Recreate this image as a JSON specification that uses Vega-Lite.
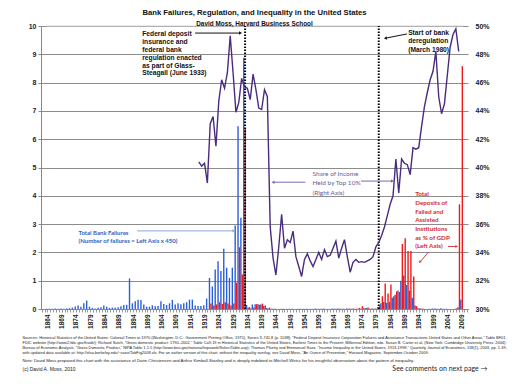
{
 "$schema": "https://vega.github.io/schema/vega-lite/v6.json",
 "width": 427,
 "height": 283,
 "autosize": {"type": "none"},
 "padding": {"left": 41, "top": 26, "right": 44, "bottom": 81},
 "background": "white",
 "config": {
  "view": {"stroke": null}, "font": "Liberation Sans",
  "axisX": {"tickCount": 146, "labelExpr": "(datum.value - 1864) % 5 == 0 ? '' + datum.value : ''", "labelAngle": 270,
   "labelOverlap": false, "labelFlush": false, "grid": false, "title": null, "labelFontSize": 6.5, "labelFontWeight": "bold",
   "labelColor": "#222", "tickSize": 3, "tickColor": "#999", "domainColor": "#888", "labelPadding": 2}
 },
 "title": {
  "text": "Bank Failures,  Regulation,  and Inequality in the United States",
  "subtitle": "David Moss, Harvard Business School",
  "font": "Liberation Sans", "fontSize": 7.7, "fontWeight": "bold", "color": "#111",
  "subtitleFont": "Liberation Sans", "subtitleFontSize": 6.4, "subtitleFontWeight": "bold", "subtitleColor": "#111",
  "subtitlePadding": 4, "offset": 0, "dy": 5.5, "anchor": "middle"
 },
 "data": {"values": [
  {"yr":1864,"f":0.01},{"yr":1865,"f":0.01},{"yr":1866,"f":0.01},{"yr":1867,"f":0.02},{"yr":1868,"f":0.01},
  {"yr":1869,"f":0.02},{"yr":1870,"f":0.01},{"yr":1871,"f":0.02},{"yr":1872,"f":0.03},{"yr":1873,"f":0.05},
  {"yr":1874,"f":0.09},{"yr":1875,"f":0.12},{"yr":1876,"f":0.08},{"yr":1877,"f":0.2},{"yr":1878,"f":0.3},
  {"yr":1879,"f":0.08},{"yr":1880,"f":0.04},{"yr":1881,"f":0.02},{"yr":1882,"f":0.04},{"yr":1883,"f":0.06},
  {"yr":1884,"f":0.12},{"yr":1885,"f":0.08},{"yr":1886,"f":0.04},{"yr":1887,"f":0.05},{"yr":1888,"f":0.04},
  {"yr":1889,"f":0.06},{"yr":1890,"f":0.1},{"yr":1891,"f":0.14},{"yr":1892,"f":0.15},{"yr":1893,"f":1.08},
  {"yr":1894,"f":0.2},{"yr":1895,"f":0.27},{"yr":1896,"f":0.33},{"yr":1897,"f":0.32},{"yr":1898,"f":0.16},
  {"yr":1899,"f":0.08},{"yr":1900,"f":0.08},{"yr":1901,"f":0.13},{"yr":1902,"f":0.1},{"yr":1903,"f":0.11},
  {"yr":1904,"f":0.27},{"yr":1905,"f":0.18},{"yr":1906,"f":0.14},{"yr":1907,"f":0.2},{"yr":1908,"f":0.32},
  {"yr":1909,"f":0.16},{"yr":1910,"f":0.2},{"yr":1911,"f":0.17},{"yr":1912,"f":0.2},{"yr":1913,"f":0.24},
  {"yr":1914,"f":0.33},{"yr":1915,"f":0.33},{"yr":1916,"f":0.12},
  {"yr":1917,"f":0.11,"s":40.4},{"yr":1918,"f":0.11,"s":40.1},{"yr":1919,"f":0.13,"s":40.3},{"yr":1920,"f":0.37,"s":38.9},
  {"yr":1921,"f":1.1,"d":0.19,"s":43.1},{"yr":1922,"f":0.8,"d":0.12,"s":43.6},{"yr":1923,"f":1.4,"d":0.16,"s":41.5},
  {"yr":1924,"f":1.69,"d":0.24,"s":44.7},{"yr":1925,"f":1.34,"d":0.18,"s":46.2},{"yr":1926,"f":2.13,"d":0.24,"s":45.6},
  {"yr":1927,"f":1.46,"d":0.19,"s":46.7},{"yr":1928,"f":1.1,"d":0.12,"s":49.3},{"yr":1929,"f":1.46,"d":0.19,"s":46.7},
  {"yr":1930,"f":2.95,"d":0.93,"s":43.9},{"yr":1931,"f":6.46,"d":2.18,"s":44.6},{"yr":1932,"f":3.22,"d":1.22,"s":46.3},
  {"yr":1933,"f":8.88,"d":6.37,"s":45.7},{"yr":1934,"f":0.14,"d":0.04,"s":45.6},{"yr":1935,"f":0.07,"d":0.02,"s":44.8},
  {"yr":1936,"f":0.16,"d":0.05,"s":46.6},{"yr":1937,"f":0.17,"d":0.17,"s":45.5},{"yr":1938,"f":0.17,"d":0.15,"s":44.2},
  {"yr":1939,"f":0.16,"d":0.19,"s":44.1},{"yr":1940,"f":0.11,"d":0.12,"s":45.5},{"yr":1941,"f":0.04,"d":0.02,"s":45.0},
  {"yr":1942,"f":0.05,"d":0.01,"s":35.8},{"yr":1943,"f":0.01,"d":0.005,"s":33.6},{"yr":1944,"f":0.005,"d":0.003,"s":32.4},
  {"yr":1945,"f":0.003,"d":0.002,"s":34.4},{"yr":1946,"f":0.005,"d":0.003,"s":36.7},{"yr":1947,"f":0.013,"d":0.004,"s":34.3},
  {"yr":1948,"f":0.007,"d":0.003,"s":34.9},{"yr":1949,"f":0.01,"d":0.003,"s":34.7},{"yr":1950,"f":0.011,"d":0.003,"s":35.5},
  {"yr":1951,"f":0.004,"d":0.002,"s":33.7},{"yr":1952,"f":0.009,"d":0.002,"s":33.0},{"yr":1953,"f":0.009,"d":0.003,"s":32.3},
  {"yr":1954,"f":0.009,"d":0.003,"s":33.5},{"yr":1955,"f":0.011,"d":0.003,"s":33.9},{"yr":1956,"f":0.007,"d":0.002,"s":33.4},
  {"yr":1957,"f":0.007,"d":0.002,"s":33.0},{"yr":1958,"f":0.02,"d":0.003,"s":33.5},{"yr":1959,"f":0.007,"d":0.002,"s":34.0},
  {"yr":1960,"f":0.011,"d":0.003,"s":33.5},{"yr":1961,"f":0.02,"d":0.004,"s":34.2},{"yr":1962,"f":0.004,"d":0.002,"s":33.7},
  {"yr":1963,"f":0.005,"d":0.004,"s":33.8},{"yr":1964,"f":0.016,"d":0.005,"s":34.3},{"yr":1965,"f":0.011,"d":0.005,"s":34.8},
  {"yr":1966,"f":0.016,"d":0.01,"s":33.6},{"yr":1967,"f":0.009,"d":0.005,"s":34.3},{"yr":1968,"f":0.007,"d":0.004,"s":34.9},
  {"yr":1969,"f":0.02,"d":0.006,"s":33.7},{"yr":1970,"f":0.016,"d":0.006,"s":32.6},{"yr":1971,"f":0.013,"d":0.015,"s":33.3},
  {"yr":1972,"f":0.004,"d":0.01,"s":33.5},{"yr":1973,"f":0.013,"d":0.04,"s":33.3},{"yr":1974,"f":0.009,"d":0.1,"s":33.35},
  {"yr":1975,"f":0.03,"d":0.03,"s":33.3},{"yr":1976,"f":0.038,"d":0.05,"s":33.4},{"yr":1977,"f":0.013,"d":0.01,"s":33.5},
  {"yr":1978,"f":0.016,"d":0.01,"s":33.7},{"yr":1979,"f":0.022,"d":0.01,"s":34.4},{"yr":1980,"f":0.07,"d":0.1,"s":34.7},
  {"yr":1981,"f":0.2,"d":0.45,"s":35.2},{"yr":1982,"f":0.25,"d":0.9,"s":35.8},{"yr":1983,"f":0.22,"d":0.55,"s":36.6},
  {"yr":1984,"f":0.25,"d":0.87,"s":37.4},{"yr":1985,"f":0.4,"d":0.45,"s":38.0},{"yr":1986,"f":0.5,"d":0.62,"s":40.6},
  {"yr":1987,"f":0.65,"d":0.6,"s":38.2},{"yr":1988,"f":1.0,"d":2.3,"s":40.6},{"yr":1989,"f":1.18,"d":2.5,"s":40.3},
  {"yr":1990,"f":0.85,"d":2.05,"s":40.2},{"yr":1991,"f":0.65,"d":2.05,"s":39.5},{"yr":1992,"f":0.4,"d":1.15,"s":41.4},
  {"yr":1993,"f":0.12,"d":0.1,"s":41.3},{"yr":1994,"f":0.03,"d":0.02,"s":41.4},{"yr":1995,"f":0.02,"d":0.01,"s":42.9},
  {"yr":1996,"f":0.01,"d":0.004,"s":44.3},{"yr":1997,"f":0.002,"d":0.001,"s":45.3},{"yr":1998,"f":0.007,"d":0.003,"s":46.2},
  {"yr":1999,"f":0.02,"d":0.01,"s":46.8},{"yr":2000,"f":0.016,"d":0.004,"s":48.2},{"yr":2001,"f":0.009,"d":0.002,"s":45.0},
  {"yr":2002,"f":0.024,"d":0.003,"s":43.8},{"yr":2003,"f":0.007,"d":0.001,"s":44.5},{"yr":2004,"f":0.009,"d":0.001,"s":46.5},
  {"yr":2005,"f":0.0,"d":0.0,"s":48.5},{"yr":2006,"f":0.0,"d":0.0,"s":49.4},{"yr":2007,"f":0.007,"d":0.02,"s":49.8},
  {"yr":2008,"f":0.06,"d":3.7,"s":48.2},{"yr":2009,"f":0.33,"d":8.58}
 ]},
 "layer": [
  {"mark": {"type": "bar", "width": 1.4, "xOffset": -0.75, "color": "#2a5fd8"},
   "encoding": {
    "x": {"field": "yr", "type": "quantitative", "title": null,
     "scale": {"domain": [1863.5, 2009.5], "nice": false, "zero": false}},
    "y": {"field": "f", "type": "quantitative",
     "scale": {"domain": [0, 10], "nice": false},
     "axis": {"values": [0,1,2,3,4,5,6,7,8,9,10], "grid": true, "gridColor": "#8c8c8c",
      "labelFontSize": 7, "labelFontWeight": "bold", "labelColor": "#222", "tickSize": 3, "tickColor": "#888",
      "domainColor": "#888", "labelPadding": 2, "title": null}}
   }},
  {"mark": {"type": "bar", "width": 1.4, "xOffset": 0.75, "color": "#f01818"},
   "encoding": {
    "x": {"field": "yr", "type": "quantitative", "title": null},
    "y": {"field": "d", "type": "quantitative", "scale": {"domain": [0, 10], "nice": false}, "axis": null}
   }},
  {"data": {"values": [{}]},
   "mark": {"type": "rule", "color": "#d6d6d6", "strokeWidth": 1},
   "encoding": {"x": {"datum": 1863.5}, "x2": {"datum": 2009.5}, "y": {"datum": 10, "scale": {"domain": [0, 10], "nice": false}, "axis": null}, "y2": {"datum": 10}}},
  {"data": {"values": [{}]},
   "mark": {"type": "rule", "color": "#000", "strokeWidth": 2, "strokeDash": [1.5, 1.5]},
   "encoding": {"x": {"datum": 1933.2}, "y": {"datum": 0, "scale": {"domain": [0, 10], "nice": false}, "axis": null}, "y2": {"datum": 10}}},
  {"data": {"values": [{}]},
   "mark": {"type": "rule", "color": "#000", "strokeWidth": 2, "strokeDash": [1.5, 1.5]},
   "encoding": {"x": {"datum": 1980}, "y": {"datum": 0, "scale": {"domain": [0, 10], "nice": false}, "axis": null}, "y2": {"datum": 10}}},
  {"data": {"values": [{}]},
   "mark": {"type": "text", "text": ["Federal deposit", "insurance and", "federal bank", "regulation enacted", "as part of Glass-", "Steagall (June 1933)"],
    "align": "left", "baseline": "alphabetic", "lineHeight": 7.8, "font": "Liberation Sans", "fontSize": 6.7, "fontWeight": "bold", "color": "#111"},
   "encoding": {"x": {"datum": 1897.2}, "y": {"datum": 9.63, "scale": {"domain": [0, 10], "nice": false}, "axis": null}}},
  {"data": {"values": [{}]},
   "mark": {"type": "rule", "color": "#111", "strokeWidth": 1},
   "encoding": {"x": {"datum": 1915.7}, "x2": {"datum": 1931.3}, "y": {"datum": 9.75, "scale": {"domain": [0, 10], "nice": false}, "axis": null}, "y2": {"datum": 9.75}}},
  {"data": {"values": [{}]},
   "mark": {"type": "point", "shape": "triangle-right", "size": 12, "filled": true, "opacity": 1, "color": "#111"},
   "encoding": {"x": {"datum": 1931.6}, "y": {"datum": 9.75, "scale": {"domain": [0, 10], "nice": false}, "axis": null}}},
  {"data": {"values": [{}]},
   "mark": {"type": "text", "text": ["Start of bank", "deregulation", "(March 1980)"],
    "align": "left", "baseline": "alphabetic", "lineHeight": 8.3, "font": "Liberation Sans", "fontSize": 6.7, "fontWeight": "bold", "color": "#111"},
   "encoding": {"x": {"datum": 1990.3}, "y": {"datum": 9.68, "scale": {"domain": [0, 10], "nice": false}, "axis": null}}},
  {"data": {"values": [{}]},
   "mark": {"type": "rule", "color": "#111", "strokeWidth": 1},
   "encoding": {"x": {"datum": 1989.9}, "x2": {"datum": 1982.9}, "y": {"datum": 9.72, "scale": {"domain": [0, 10], "nice": false}, "axis": null}, "y2": {"datum": 9.58}}},
  {"data": {"values": [{}]},
   "mark": {"type": "point", "shape": "triangle", "angle": 259, "size": 12, "filled": true, "opacity": 1, "color": "#111"},
   "encoding": {"x": {"datum": 1982.5}, "y": {"datum": 9.57, "scale": {"domain": [0, 10], "nice": false}, "axis": null}}},
  {"data": {"values": [{}]},
   "mark": {"type": "text", "text": ["Share of Income", "Held by Top 10%", "(Right Axis)"],
    "align": "left", "baseline": "alphabetic", "lineHeight": 9.2, "font": "Lato", "fontSize": 6.5, "color": "#6a5c96"},
   "encoding": {"x": {"datum": 1956.8}, "y": {"datum": 4.69, "scale": {"domain": [0, 10], "nice": false}, "axis": null}}},
  {"data": {"values": [{}]},
   "mark": {"type": "rule", "color": "#7a6aa8", "strokeWidth": 1},
   "encoding": {"x": {"datum": 1954.3}, "x2": {"datum": 1943.4}, "y": {"datum": 4.48, "scale": {"domain": [0, 10], "nice": false}, "axis": null}, "y2": {"datum": 4.48}}},
  {"data": {"values": [{}]},
   "mark": {"type": "point", "shape": "triangle-left", "size": 12, "filled": true, "opacity": 1, "color": "#7a6aa8"},
   "encoding": {"x": {"datum": 1943.0}, "y": {"datum": 4.48, "scale": {"domain": [0, 10], "nice": false}, "axis": null}}},
  {"data": {"values": [{}]},
   "mark": {"type": "rule", "color": "#7a6aa8", "strokeWidth": 1},
   "encoding": {"x": {"datum": 1973.8}, "x2": {"datum": 1984.4}, "y": {"datum": 4.52, "scale": {"domain": [0, 10], "nice": false}, "axis": null}, "y2": {"datum": 4.52}}},
  {"data": {"values": [{}]},
   "mark": {"type": "point", "shape": "triangle-right", "size": 12, "filled": true, "opacity": 1, "color": "#7a6aa8"},
   "encoding": {"x": {"datum": 1984.8}, "y": {"datum": 4.52, "scale": {"domain": [0, 10], "nice": false}, "axis": null}}},
  {"data": {"values": [{}]},
   "mark": {"type": "text", "text": ["Total Bank Failures", "(Number of failures = Left Axis x 450)"],
    "align": "left", "baseline": "alphabetic", "lineHeight": 8.4, "font": "Lato", "fontSize": 6, "fontWeight": "bold", "color": "#2e63c4"},
   "encoding": {"x": {"datum": 1874.9}, "y": {"datum": 2.63, "scale": {"domain": [0, 10], "nice": false}, "axis": null}}},
  {"data": {"values": [{}]},
   "mark": {"type": "rule", "color": "#8aa9dc", "strokeWidth": 1},
   "encoding": {"x": {"datum": 1895.4}, "x2": {"datum": 1929.0}, "y": {"datum": 2.76, "scale": {"domain": [0, 10], "nice": false}, "axis": null}, "y2": {"datum": 2.76}}},
  {"data": {"values": [{}]},
   "mark": {"type": "point", "shape": "triangle-right", "size": 12, "filled": true, "opacity": 1, "color": "#8aa9dc"},
   "encoding": {"x": {"datum": 1929.3}, "y": {"datum": 2.76, "scale": {"domain": [0, 10], "nice": false}, "axis": null}}},
  {"data": {"values": [{}]},
   "mark": {"type": "text", "text": ["Total", "Deposits of", "Failed and", "Assisted", "Institutions", "as %  of GDP", "(Left Axis)"],
    "align": "left", "baseline": "alphabetic", "lineHeight": 8.67, "font": "Lato", "fontSize": 6.3, "fontWeight": "bold", "color": "#d42a2a"},
   "encoding": {"x": {"datum": 1992.75}, "y": {"datum": 3.98, "scale": {"domain": [0, 10], "nice": false}, "axis": null}}},
  {"data": {"values": [{}]},
   "mark": {"type": "rule", "color": "#d04040", "strokeWidth": 1},
   "encoding": {"x": {"datum": 2004.25}, "x2": {"datum": 2007.0}, "y": {"datum": 2.21, "scale": {"domain": [0, 10], "nice": false}, "axis": null}, "y2": {"datum": 2.21}}},
  {"data": {"values": [{}]},
   "mark": {"type": "point", "shape": "triangle-right", "size": 10, "filled": true, "opacity": 1, "color": "#d04040"},
   "encoding": {"x": {"datum": 2007.3}, "y": {"datum": 2.21, "scale": {"domain": [0, 10], "nice": false}, "axis": null}}},
  {"data": {"values": [{}]},
   "mark": {"type": "rule", "color": "#d04040", "strokeWidth": 1},
   "encoding": {"x": {"datum": 1997.45}, "x2": {"datum": 1994.8}, "y": {"datum": 2.02, "scale": {"domain": [0, 10], "nice": false}, "axis": null}, "y2": {"datum": 1.7}}},
  {"data": {"values": [{}]},
   "mark": {"type": "point", "shape": "triangle", "angle": 222, "size": 10, "filled": true, "opacity": 1, "color": "#d04040"},
   "encoding": {"x": {"datum": 1994.5}, "y": {"datum": 1.67, "scale": {"domain": [0, 10], "nice": false}, "axis": null}}},
  {"data": {"values": [{}]},
   "mark": {"type": "text", "text": [
     "Sources: Historical Statistics of the United States: Colonial Times to 1970 (Washington, D.C.: Government Printing Office, 1975), Series X-741,8 (p. 1038); “Federal Deposit Insurance Corporation Failures and Assistance Transactions United States and Other Areas,” Table BF01,",
     "FDIC website (http://www2.fdic.gov/hsob/); Richard Sutch, “Gross domestic product: 1790–2002,” Table Ca9-19 in Historical Statistics of the United States, Earliest Times to the Present: Millennial Edition, eds. Susan B. Carter et al. (New York: Cambridge University Press, 2006);",
     "Bureau of Economic Analysis, “Gross Domestic Product,” NIPA Table 1.1.5 (http://www.bea.gov/national/nipaweb/SelectTable.asp); Thomas Piketty and Emmanuel Saez, “Income Inequality in the United States, 1913-1998,” Quarterly Journal of Economics, 118(1), 2003, pp. 1-39,",
     "with updated data available at: http://elsa.berkeley.edu/~saez/TabFig2008.xls.  For an earlier version of this chart, without the inequality overlay, see David Moss, “An Ounce of Prevention,” Harvard Magazine, September-October 2009."],
    "align": "left", "baseline": "alphabetic", "lineHeight": 5, "font": "Liberation Sans", "fontSize": 3.95, "color": "#222"},
   "encoding": {"x": {"datum": 1855.27}, "y": {"datum": -1.067, "scale": {"domain": [0, 10], "nice": false}, "axis": null}}},
  {"data": {"values": [{}]},
   "mark": {"type": "text", "text": "Note: David Moss prepared this chart with the assistance of Darin Christensen and Arthur Kimball-Stanley and is deeply indebted to Mitchell Weiss for his insightful observation about the pattern of inequality.",
    "align": "left", "baseline": "middle", "font": "Liberation Sans", "fontSize": 4.3, "color": "#222"},
   "encoding": {"x": {"datum": 1855.27}, "y": {"datum": -1.837, "scale": {"domain": [0, 10], "nice": false}, "axis": null}}},
  {"data": {"values": [{}]},
   "mark": {"type": "text", "text": "(c) David A. Moss, 2010",
    "align": "left", "baseline": "middle", "font": "Liberation Sans", "fontSize": 5, "color": "#222"},
   "encoding": {"x": {"datum": 1855.27}, "y": {"datum": -2.12, "scale": {"domain": [0, 10], "nice": false}, "axis": null}}},
  {"data": {"values": [{}]},
   "mark": {"type": "text", "text": "See comments on next page →",
    "align": "left", "baseline": "middle", "font": "Lato", "fontSize": 7, "color": "#1a1f33"},
   "encoding": {"x": {"datum": 1984.77}, "y": {"datum": -2.12, "scale": {"domain": [0, 10], "nice": false}, "axis": null}}},
  {"transform": [{"filter": "datum.s != null"}],
   "mark": {"type": "line", "color": "#4a2b80", "strokeWidth": 1.4},
   "encoding": {
    "x": {"field": "yr", "type": "quantitative", "title": null},
    "y": {"field": "s", "type": "quantitative", "scale": {"domain": [30, 50], "nice": false, "zero": false},
     "axis": {"orient": "right", "values": [30,32,34,36,38,40,42,44,46,48,50], "labelExpr": "datum.value + '%'", "grid": false,
      "labelFontSize": 7, "labelFontWeight": "bold", "labelColor": "#222", "domain": false, "ticks": false,
      "labelPadding": 7, "title": null}}
   }}
 ],
 "resolve": {"scale": {"y": "independent"}}
}
